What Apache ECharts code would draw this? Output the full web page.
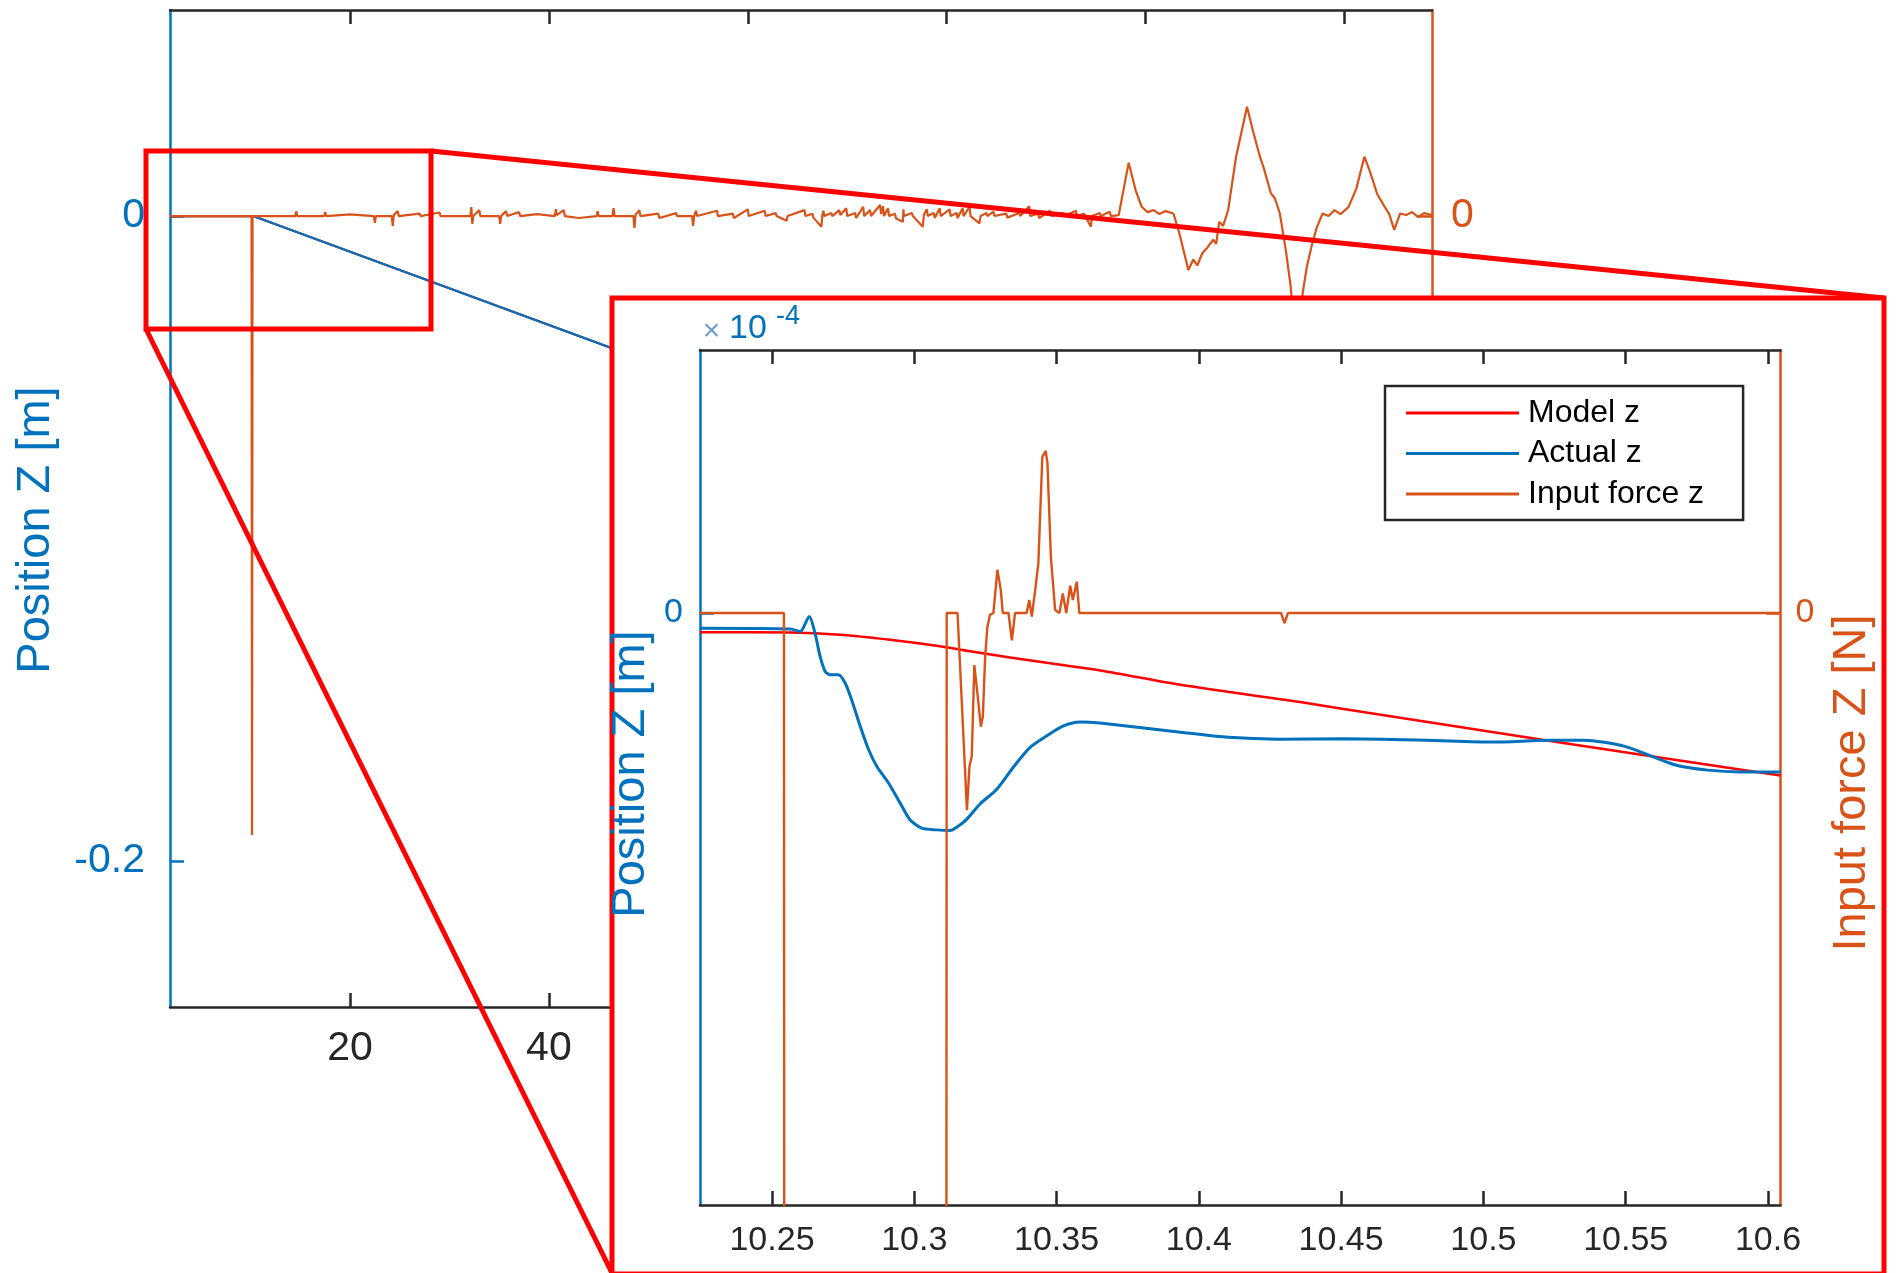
<!DOCTYPE html>
<html>
<head>
<meta charset="utf-8">
<script src="https://cdn.jsdelivr.net/npm/echarts@6/dist/echarts.min.js"></script>
<style>
html,body{margin:0;padding:0;background:#fff;}
#c{width:1896px;height:1273px;}
</style>
</head>
<body>
<div id="c"></div>
<script>
// ---------------- DATA ----------------
const seriesNames = ['Model z', 'Actual z', 'Input force z'];

// main (overview) plot: time [s], position [m], force [N]
const mainXTicks = [20, 40, 60, 80, 100, 120];
const mainYTicks = [-0.2, 0];
const mainForceTicks = [0];

const mainModelZ = [[1.9, 0], [10.26, 0], [128.8, -0.1347]];
const mainActualZ = [[1.9, 0], [10.26, 0], [128.8, -0.1347]];

const mainForceZ = [
  [1.9,0],[10.10,0],[10.15,-31.3],[10.20,0],
  [14.5,0],[14.6,0.25],[14.7,0],[17.4,0],[17.5,0.2],[17.6,0],
  [20.0,0.08],[20.1,0],[22.4,0],[22.5,-0.35],[22.6,0],
  [24.2,0],[24.3,-0.5],[24.4,0.05],[24.8,0.25],[24.9,0],
  [27.0,0.12],[27.1,0],[29.0,0.18],[29.1,0],
  [32.1,0],[32.2,0.45],[32.3,-0.4],[32.4,0],[33.0,0.3],[33.1,0],
  [35.0,0],[35.1,-0.4],[35.2,0],[35.7,0.25],[35.8,0],
  [37.0,0.2],[37.1,0],[38.8,0.1],[38.9,0],
  [40.6,0],[40.7,0.35],[40.8,0.05],[41.5,0.3],[41.6,0],
  [43.0,-0.1],[43.1,0],[44.8,0],[44.9,0.25],[45.0,0],
  [46.4,0],[46.5,0.4],[46.6,0],
  [48.5,0],[48.6,-0.6],[48.7,0.05],[49.1,0.3],[49.2,0],
  [51.0,0.12],[51.1,-0.1],[51.2,0],[52.8,0.15],[52.9,0],
  [54.4,0],[54.5,-0.5],[54.6,0],[54.8,0.27],[54.9,0],
  [56.9,0.27],[57.0,0],[58.5,0.12],[58.6,-0.1],[58.7,0],
  [60.0,0.34],[60.1,0],[61.7,0.27],[61.8,0],[62.8,0.15],[62.9,0],
  [63.9,-0.24],[64.0,0],[65.7,0.3],[65.8,0],[66.5,0.12],[66.6,-0.08],
  [67.4,-0.54],[67.5,0.05],[67.6,0.27],[67.7,0],[68.4,0.15],[68.5,0],
  [69.2,0.3],[69.3,0.05],[69.9,0.39],[70.0,0],[70.8,0.15],[70.9,-0.1],
  [71.6,0.47],[71.7,0],[72.3,0.3],[72.4,0],
  [73.3,0.56],[73.4,0.1],[73.6,0.5],[73.7,0],[74.1,0.39],[74.2,0],
  [74.8,0.12],[74.9,-0.12],[75.6,-0.29],[75.65,0.34],[75.7,0],
  [76.5,0.15],[76.6,0],[77.6,-0.54],[77.7,0.05],[78.0,0.34],[78.1,0],
  [78.7,0.15],[78.8,-0.1],[79.3,0.39],[79.4,0],[80.3,0.34],[80.4,0],
  [81.0,0.15],[81.1,-0.1],[81.6,0.39],[81.7,0],[82.3,0.47],[82.4,0],
  [83.3,-0.37],[83.4,0],[84.0,0.15],[84.1,0],[84.7,0.22],[84.8,0],
  [86.0,0.12],[86.1,-0.08],[87.3,0.15],[87.4,0],[88.3,0.5],[88.4,0],
  [89.2,0.12],[89.3,-0.1],[90.4,0.27],[90.5,0],[91.7,0.15],[91.8,0],
  [93.0,0.27],[93.1,0],[93.8,0.12],[94.5,-0.54],[94.6,0],
  [95.4,0.15],[95.5,0],[96.4,0.22],[96.5,0],[97.3,0.05],
  [98.3,2.7],[99.0,1.3],[99.6,0.47],[100.2,0.2],[100.8,0.3],[101.4,0.1],[102.0,0.25],[102.8,0.13],
  [103.4,-0.88],[104.3,-2.73],[104.8,-2.2],[105.2,-2.5],[105.7,-1.88],[106.2,-1.6],[106.8,-1.2],
  [107.1,-1.4],[107.4,-0.29],[107.8,-0.5],[108.3,0.3],
  [109.1,3.0],[110.2,5.53],[110.8,4.3],[111.5,3.0],[111.9,2.4],[112.6,1.15],[113.0,0.9],[113.5,0.13],
  [114.1,-1.72],[114.6,-3.6],[114.9,-5.5],[115.4,-5.5],[115.8,-3.9],[116.2,-2.6],[116.7,-1.5],
  [117.2,-0.6],[117.8,0.13],[118.4,0.0],[119.0,0.3],[119.6,0.1],[120.4,0.45],[121.2,1.4],
  [122.0,3.0],[122.6,2.2],[123.3,1.1],[124.0,0.5],[124.5,0.1],[125.0,-0.7],[125.6,0.13],
  [126.2,0.05],[126.8,0.2],[127.4,-0.05],[128.0,0.15],[128.8,0.05]
];

// inset (zoomed) plot: time [s], position [x1e-4 m], force [N]
const insetXTicks = [10.25, 10.3, 10.35, 10.4, 10.45, 10.5, 10.55, 10.6];
const insetYTicks = [0];
const insetForceTicks = [0];

const insetModelZ = [
  [10.2247,-0.54],[10.2564,-0.55],[10.2739,-0.61],[10.2915,-0.75],[10.3090,-0.93],
  [10.3196,-1.07],[10.3465,-1.39],[10.3654,-1.60],[10.3936,-2.00],[10.4356,-2.48],
  [10.4628,-2.82],[10.5252,-3.58],[10.5719,-4.14],[10.6044,-4.52]
];

const insetActualZ = [
  [10.2247,-0.43],[10.2564,-0.45],[10.2599,-0.52],[10.2631,-0.10],[10.2651,-0.56],
  [10.2669,-1.21],[10.2687,-1.63],[10.2704,-1.72],[10.2733,-1.72],[10.2757,-1.95],
  [10.2780,-2.42],[10.2810,-3.15],[10.2839,-3.79],[10.2868,-4.26],[10.2909,-4.72],
  [10.2950,-5.28],[10.2985,-5.75],[10.3026,-5.98],[10.3079,-6.03],[10.3126,-6.05],
  [10.3149,-5.96],[10.3185,-5.73],[10.3231,-5.31],[10.3290,-4.90],[10.3348,-4.29],
  [10.3407,-3.74],[10.3465,-3.42],[10.3524,-3.14],[10.3583,-3.03],[10.3653,-3.06],
  [10.3929,-3.31],[10.4103,-3.46],[10.4278,-3.51],[10.4510,-3.50],[10.4800,-3.54],
  [10.5033,-3.59],[10.5236,-3.54],[10.5352,-3.54],[10.5497,-3.71],[10.5672,-4.22],
  [10.5788,-4.37],[10.5904,-4.42],[10.6044,-4.42]
];

const insetForceZ = [
  [10.2247,0],[10.2542,0],[10.2545,-30],[10.3111,-30],[10.3114,0],[10.3120,0],[10.3152,0],
  [10.3185,-3.33],[10.3194,-2.59],[10.3202,-2.42],[10.3211,-0.88],[10.3223,-1.41],
  [10.3234,-1.92],[10.3241,-1.75],[10.3249,-0.74],[10.3257,-0.23],[10.3266,-0.03],
  [10.3278,0],[10.3292,0.73],[10.3304,0.39],[10.3311,0],[10.3331,0],[10.3343,-0.46],
  [10.3354,0],[10.3395,0],[10.3404,0.22],[10.3413,-0.06],[10.3425,0.39],[10.3436,0.84],
  [10.3450,2.64],[10.3462,2.74],[10.3468,2.53],[10.3480,0.95],[10.3495,0.05],[10.3510,0],
  [10.3522,0.33],[10.3534,0],[10.3548,0.46],[10.3557,0.22],[10.3571,0.53],[10.3580,0],
  [10.4289,0],[10.4301,-0.17],[10.4313,0],[10.6044,0]
];

// ---------------- STYLE / LAYOUT ----------------
const FONT = '"Liberation Sans", Arial, Helvetica, sans-serif';
const BLUE = '#0072BD', ORANGE = '#D95319', RED = '#FF0000', DARK = '#262626';

const MAIN = {left: 170, top: 10, width: 1262, height: 997};
const INSET = {left: 700, top: 350, width: 1080.5, height: 855};

function fmt(v) { return String(+(+v).toFixed(4)); }

function axisBase(o) {
  return Object.assign({
    type: 'value',
    splitLine: {show: false},
    axisLine: {show: true, onZero: false, lineStyle: {color: o.color, width: 2.5}},
    axisTick: {show: true, inside: true, length: 14, customValues: o.ticks,
               lineStyle: {color: o.color, width: 2.5}},
    axisLabel: o.noLabel ? {show: false} : {
      show: true, customValues: o.ticks, fontSize: o.fontSize, color: o.color,
      margin: o.margin, fontFamily: FONT, formatter: fmt
    }
  }, o.extra);
}

const chart = echarts.init(document.getElementById('c'), null, {renderer: 'canvas'});

const option = {
  animation: false,
  backgroundColor: '#fff',
  grid: [
    Object.assign({containLabel: false, outerBoundsMode: 'none'}, MAIN),
    Object.assign({containLabel: false, outerBoundsMode: 'none'}, INSET)
  ],
  xAxis: [
    axisBase({color: DARK, ticks: mainXTicks, fontSize: 41, margin: 21,
      extra: {gridIndex: 0, position: 'bottom', min: 1.9, max: 128.8, z: 0}}),
    axisBase({color: DARK, ticks: mainXTicks, noLabel: true,
      extra: {gridIndex: 0, position: 'top', min: 1.9, max: 128.8, z: 0}}),
    axisBase({color: DARK, ticks: insetXTicks, fontSize: 34, margin: 19,
      extra: {gridIndex: 1, position: 'bottom', min: 10.2247, max: 10.6044, z: 25}}),
    axisBase({color: DARK, ticks: insetXTicks, noLabel: true,
      extra: {gridIndex: 1, position: 'top', min: 10.2247, max: 10.6044, z: 25}})
  ],
  yAxis: [
    axisBase({color: BLUE, ticks: mainYTicks, fontSize: 41, margin: 25,
      extra: {gridIndex: 0, position: 'left', min: -0.2453, max: 0.0639, z: 0}}),
    axisBase({color: ORANGE, ticks: mainForceTicks, fontSize: 41, margin: 19,
      extra: {gridIndex: 0, position: 'right', min: -40, max: 10.42, z: 0}}),
    axisBase({color: BLUE, ticks: insetYTicks, fontSize: 34, margin: 17,
      extra: {gridIndex: 1, position: 'left', min: -16.45, max: 7.3, z: 25}}),
    axisBase({color: ORANGE, ticks: insetForceTicks, fontSize: 34, margin: 15,
      extra: {gridIndex: 1, position: 'right', min: -10, max: 4.443, z: 25}})
  ],
  legend: {
    show: true,
    data: seriesNames,
    orient: 'vertical',
    left: 1385, top: 386,
    padding: [11, 39, 10, 21],
    icon: 'rect',
    itemWidth: 113, itemHeight: 3, itemGap: 8.5,
    backgroundColor: '#fff',
    borderColor: DARK, borderWidth: 2.5,
    selectedMode: false,
    textStyle: {fontSize: 32, lineHeight: 32, color: '#000', fontFamily: FONT, padding: [0, 0, 0, 4]},
    z: 30
  },
  series: [
    {name: seriesNames[0], type: 'line', xAxisIndex: 0, yAxisIndex: 0, data: mainModelZ,
     symbol: 'none', lineStyle: {color: RED, width: 2.2}, itemStyle: {color: RED}, z: 2},
    {name: seriesNames[1], type: 'line', xAxisIndex: 0, yAxisIndex: 0, data: mainActualZ,
     symbol: 'none', lineStyle: {color: BLUE, width: 2.2}, itemStyle: {color: BLUE}, z: 3},
    {name: seriesNames[2], type: 'line', xAxisIndex: 0, yAxisIndex: 1, data: mainForceZ,
     symbol: 'none', lineStyle: {color: ORANGE, width: 2.2}, itemStyle: {color: ORANGE}, z: 4},
    {name: seriesNames[0], type: 'line', xAxisIndex: 2, yAxisIndex: 2, data: insetModelZ,
     symbol: 'none', smooth: 0.3, lineStyle: {color: RED, width: 2.5}, itemStyle: {color: RED}, z: 26},
    {name: seriesNames[1], type: 'line', xAxisIndex: 2, yAxisIndex: 2, data: insetActualZ,
     symbol: 'none', smooth: 0.25, lineStyle: {color: BLUE, width: 3}, itemStyle: {color: BLUE}, z: 27},
    {name: seriesNames[2], type: 'line', xAxisIndex: 2, yAxisIndex: 3, data: insetForceZ,
     symbol: 'none', lineStyle: {color: ORANGE, width: 2.4}, itemStyle: {color: ORANGE}, z: 28}
  ],
  graphic: [
    // zoom box in main plot and connector lines
    {type: 'rect', z: 15, silent: true, shape: {x: 146, y: 151, width: 285, height: 178},
     style: {fill: 'none', stroke: RED, lineWidth: 5}},
    {type: 'line', z: 15, silent: true, shape: {x1: 431, y1: 151, x2: 1884, y2: 298},
     style: {stroke: RED, lineWidth: 5}},
    {type: 'line', z: 15, silent: true, shape: {x1: 146, y1: 329, x2: 612, y2: 1273},
     style: {stroke: RED, lineWidth: 5}},
    // inset panel
    {type: 'rect', z: 20, silent: true, shape: {x: 612, y: 298, width: 1272, height: 976},
     style: {fill: '#fff', stroke: RED, lineWidth: 5}},
    // axis titles
    {type: 'text', z: 30, x: 36, y: 530, rotation: Math.PI / 2,
     style: {text: 'Position Z [m]', fontSize: 47, fontFamily: FONT, fill: BLUE, align: 'center', verticalAlign: 'middle'}},
    {type: 'text', z: 30, x: 631, y: 774, rotation: Math.PI / 2,
     style: {text: 'Position Z [m]', fontSize: 47, fontFamily: FONT, fill: BLUE, align: 'center', verticalAlign: 'middle'}},
    {type: 'text', z: 30, x: 1852, y: 783, rotation: Math.PI / 2,
     style: {text: 'Input force Z [N]', fontSize: 47, fontFamily: FONT, fill: ORANGE, align: 'center', verticalAlign: 'middle'}},
    // exponent label
    {type: 'text', z: 30, x: 711.5, y: 332,
     style: {text: '\u00d7', fontSize: 30, fontFamily: FONT, fill: '#6f9bcf', align: 'center', verticalAlign: 'middle'}},
    {type: 'text', z: 30, x: 729, y: 329,
     style: {text: '10', fontSize: 34, fontFamily: FONT, fill: BLUE, align: 'left', verticalAlign: 'middle'}},
    {type: 'text', z: 30, x: 776, y: 317,
     style: {text: '-4', fontSize: 27, fontFamily: FONT, fill: BLUE, align: 'left', verticalAlign: 'middle'}}
  ]
};

chart.setOption(option);
</script>
</body>
</html>
